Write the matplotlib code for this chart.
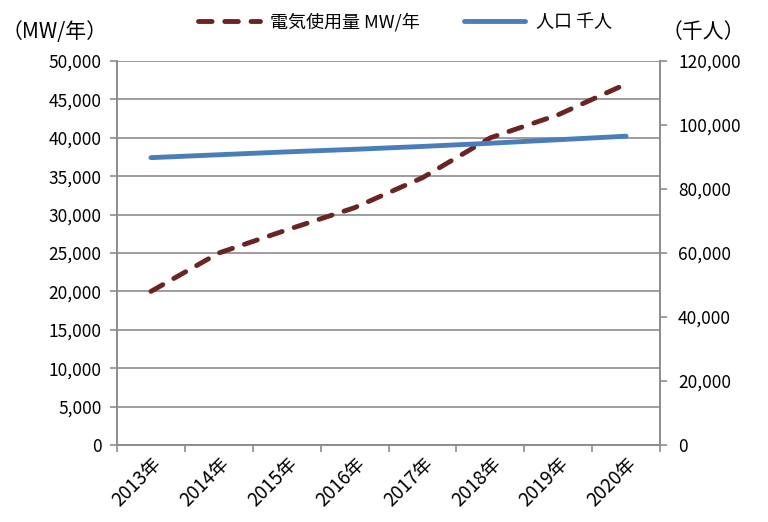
import matplotlib
matplotlib.use("Agg")
import matplotlib.pyplot as plt
from matplotlib.ticker import FuncFormatter

plt.rcParams['font.family'] = ['Noto Sans CJK JP', 'DejaVu Sans']

years = ["2013年", "2014年", "2015年", "2016年", "2017年", "2018年", "2019年", "2020年"]
power_mw = [20000, 25000, 28000, 30900, 34800, 40000, 43000, 47000]
population_k = [89800, 90700, 91600, 92400, 93300, 94300, 95400, 96500]

left_ticks = list(range(0, 50001, 5000))
right_ticks = list(range(0, 120001, 20000))

grid_c = "#8c8c8c"
red = "#6b2424"
blue = "#4a7ebb"

fig = plt.figure(figsize=(7.68, 5.22), dpi=100)
ax = fig.add_axes([117 / 768, 1 - 445 / 522, 543 / 768, 384 / 522])
ax2 = ax.twinx()

x = list(range(len(years)))
l1, = ax.plot(x, power_mw, color=red, lw=3.5, linestyle=(0, (2.8, 2.6)),
              dash_capstyle="round", zorder=3, label="電気使用量 MW/年")
l2, = ax2.plot(x, population_k, color=blue, lw=3.5, solid_capstyle="round",
               label="人口 千人")

fmt = FuncFormatter(lambda v, p: f"{int(v):,}")
ax.set_xlim(-0.5, len(years) - 0.5)
ax.set_ylim(0, 50000)
ax.set_yticks(left_ticks)
ax.yaxis.set_major_formatter(fmt)
ax2.set_ylim(0, 120000)
ax2.set_yticks(right_ticks)
ax2.yaxis.set_major_formatter(fmt)

ax.set_xticks(x)
ax.set_xticklabels(years, rotation=45, ha="right", rotation_mode="anchor")
ax.set_xticks([i - 0.5 for i in range(len(years) + 1)], minor=True)
ax.tick_params(axis="x", which="major", length=0, pad=6, labelsize=13.5)
ax.tick_params(axis="x", which="minor", length=5, color=grid_c, width=1.2)
ax.tick_params(axis="y", length=5, color=grid_c, width=1.2, labelsize=12.5, pad=6)
ax2.tick_params(axis="y", length=5, color=grid_c, width=1.2, labelsize=12.5, pad=8)

ax.grid(axis="y", color=grid_c, lw=1.2)
ax.set_axisbelow(True)
for a in (ax, ax2):
    a.spines["top"].set_visible(False)
    for s in ("left", "right", "bottom"):
        a.spines[s].set_color(grid_c)
        a.spines[s].set_linewidth(1.2)

fig.text(2 / 768, 1 - 32 / 522, "（MW/年）", fontsize=15, va="center", ha="left")
fig.text(662 / 768, 1 - 32 / 522, "（千人）", fontsize=15, va="center", ha="left")

fig.legend(handles=[l1, l2], loc="center", bbox_to_anchor=(405 / 768, 1 - 22 / 522),
           ncol=2, frameon=False, fontsize=13, handlelength=3.4, columnspacing=2.4,
           handletextpad=0.6)

fig.savefig("out.png", dpi=100)
